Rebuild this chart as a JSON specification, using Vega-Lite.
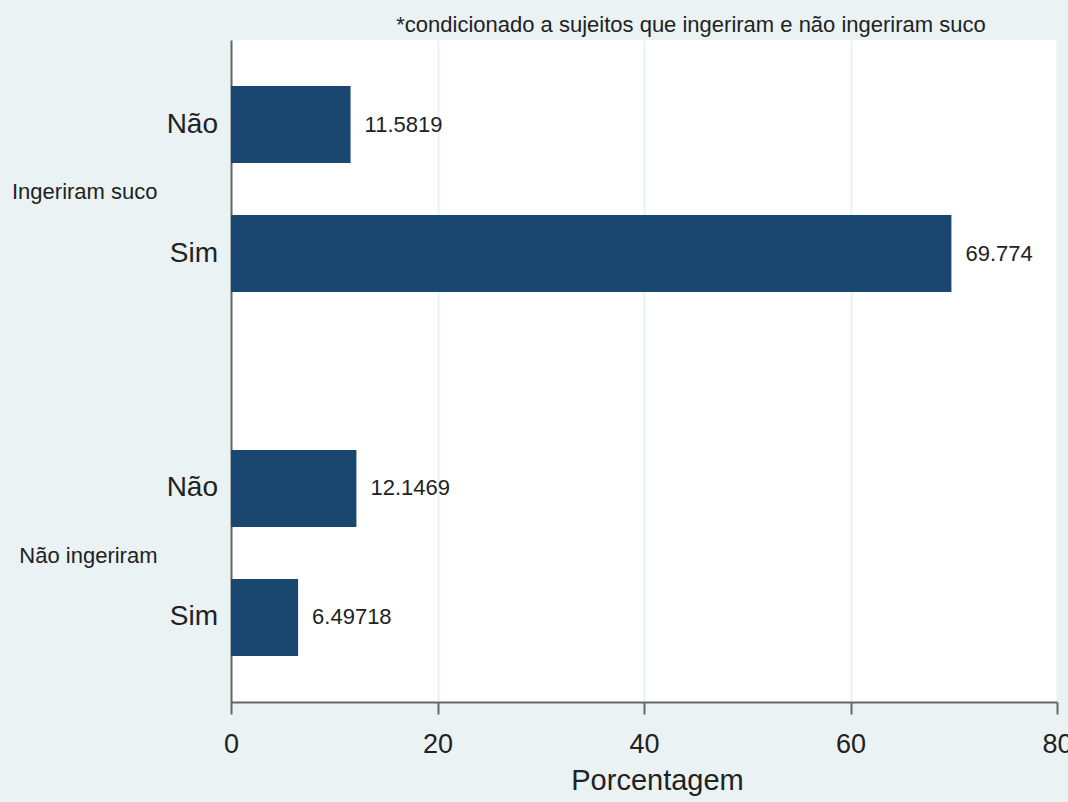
{
  "$schema": "https://vega.github.io/schema/vega-lite/v6.json",
  "autosize": {"type": "none"},
  "width": 826,
  "height": 662,
  "padding": {"left": 231, "top": 40, "right": 11, "bottom": 100},
  "background": "#EAF2F3",
  "title": {
    "text": "*condicionado a sujeitos que ingeriram e não ingeriram suco",
    "font": "Liberation Sans",
    "fontSize": 22,
    "fontWeight": "normal",
    "color": "#222222",
    "anchor": "middle",
    "dx": 47,
    "offset": 5,
    "dy": 24,
    "baseline": "bottom"
  },
  "config": {
    "view": {"fill": "white", "stroke": null},
    "font": "Liberation Sans"
  },
  "data": {
    "values": [
      {"grupo": "Ingeriram suco", "resposta": "Não", "valor": 11.5819},
      {"grupo": "Ingeriram suco", "resposta": "Sim", "valor": 69.774},
      {"grupo": "Não ingeriram", "resposta": "Não", "valor": 12.1469},
      {"grupo": "Não ingeriram", "resposta": "Sim", "valor": 6.49718}
    ]
  },
  "encoding": {
    "y": {
      "field": "grupo",
      "type": "nominal",
      "sort": ["Ingeriram suco", "Não ingeriram"],
      "scale": {"paddingInner": 0.434, "paddingOuter": 0.1265},
      "axis": {
        "title": null,
        "ticks": false,
        "labelPadding": 74,
        "labelFontSize": 22,
        "labelColor": "#222222",
        "labelAlign": "right",
        "labelOffset": 3,
        "domainColor": "#666666",
        "domainWidth": 2,
        "grid": false
      }
    },
    "yOffset": {
      "field": "resposta",
      "type": "nominal",
      "sort": ["Não", "Sim"],
      "scale": {"paddingInner": 0.403, "paddingOuter": 0}
    }
  },
  "layer": [
    {
      "mark": {"type": "bar", "color": "#1A476F"},
      "encoding": {
        "x": {
          "field": "valor",
          "type": "quantitative",
          "scale": {"domain": [0, 80], "nice": false},
          "axis": {
            "title": "Porcentagem",
            "titleFontSize": 29,
            "titleFontWeight": "normal",
            "titleColor": "#222222",
            "titlePadding": 9,
            "titleX": 426,
            "titleAlign": "center",
            "values": [0, 20, 40, 60, 80],
            "labelFontSize": 27,
            "labelColor": "#222222",
            "labelPadding": 17,
            "labelFlush": false,
            "tickSize": 12,
            "tickColor": "#666666",
            "tickWidth": 2,
            "domainColor": "#666666",
            "domainWidth": 2,
            "grid": true,
            "gridColor": "#EAF2F3",
            "gridWidth": 2
          }
        }
      }
    },
    {
      "mark": {"type": "text", "align": "left", "baseline": "middle", "dx": 14, "fontSize": 22, "color": "#222222"},
      "encoding": {
        "x": {"field": "valor", "type": "quantitative"},
        "text": {"field": "valor", "type": "nominal"}
      }
    },
    {
      "mark": {"type": "text", "align": "right", "baseline": "middle", "dx": -13, "fontSize": 28, "color": "#222222"},
      "encoding": {
        "x": {"datum": 0},
        "text": {"field": "resposta", "type": "nominal"}
      }
    }
  ]
}
